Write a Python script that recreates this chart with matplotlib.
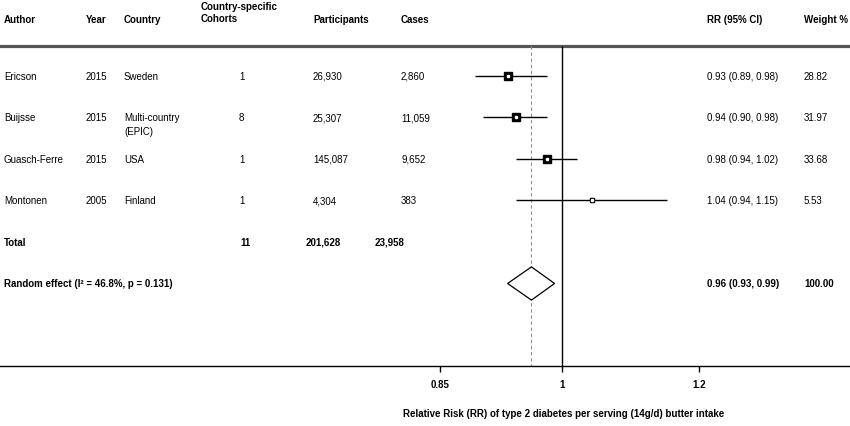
import numpy as np
import matplotlib
matplotlib.use('Agg')
import matplotlib.pyplot as plt
from matplotlib.ticker import NullLocator, FixedLocator, FixedFormatter

plt.rcParams['font.family'] = ['Liberation Sans', 'DejaVu Sans']
plt.rcParams['font.size'] = 7

# study data
authors = ['Ericson', 'Buijsse', 'Guasch-Ferre', 'Montonen']
years = [2015, 2015, 2015, 2005]
countries = ['Sweden', 'Multi-country\n(EPIC)', 'USA', 'Finland']
cohorts = [1, 8, 1, 1]
participants = [26930, 25307, 145087, 4304]
cases = [2860, 11059, 9652, 383]
rr = [0.93, 0.94, 0.98, 1.04]
rr_lo = [0.89, 0.90, 0.94, 0.94]
rr_hi = [0.98, 0.98, 1.02, 1.15]
weights = [28.82, 31.97, 33.68, 5.53]

total_cohorts = 11
total_participants = 201628
total_cases = 23958

pooled = 0.96
pooled_lo = 0.93
pooled_hi = 0.99
i2 = 46.8
p_het = 0.131

xticks = [0.85, 1, 1.2]
xtick_labels = ['0.85', '1', '1.2']

headers = ['Author', 'Year', 'Country', 'Country-specific\nCohorts',
           'Participants', 'Cases', 'RR (95% CI)', 'Weight %']

# layout (pixels of an 850 px wide figure)
W = 850.0
col_x = [4, 86, 124, 201, 313, 401, 707, 804]
cohort_val_x = 239
total_x = [240, 306, 375]

fig = plt.figure(figsize=(8.5, 4.27), dpi=100)
ax = fig.add_axes([0, 60 / 427, 1, 367 / 427])
ax.set_xscale('log')
ax.set_xlim(0.4732, 1.467)
ax.set_ylim(7.988, -0.855)

for s in ['top', 'left', 'right']:
    ax.spines[s].set_visible(False)
ax.spines['bottom'].set_linewidth(1.0)
ax.yaxis.set_visible(False)
ax.xaxis.set_major_locator(FixedLocator(xticks))
ax.xaxis.set_major_formatter(FixedFormatter(xtick_labels))
ax.xaxis.set_minor_locator(NullLocator())
ax.tick_params(axis='x', length=4.3, width=1.0, pad=5, labelsize=7)
for lab in ax.get_xticklabels():
    lab.set_fontweight('bold')
ax.set_xlabel('Relative Risk (RR) of type 2 diabetes per serving (14g/d) butter intake',
              fontweight='bold', fontsize=7, labelpad=14, x=564 / W)

tr = ax.get_yaxis_transform()
rows = np.arange(1, len(authors) + 1)
y_top = 0.277
y_bot = 7.988

# header and separator
for h, x in zip(headers, col_x):
    y = -0.54 if '\n' in h else -0.37
    ax.text(x / W, y, h, transform=tr, ha='left', va='center',
            fontweight='bold', linespacing=1.35)
ax.axhline(y_top, color='#555555', lw=2.3)

# reference lines
ax.vlines(1, y_top, y_bot, color='black', lw=1.0)
ax.vlines(pooled, y_top, y_bot, color='#909090', lw=0.8, linestyles=(0, (3, 2.5)))

# study rows
for i, y in enumerate(rows):
    ax.text(col_x[0] / W, y, authors[i], transform=tr, va='center')
    ax.text(col_x[1] / W, y, str(years[i]), transform=tr, va='center')
    for k, line in enumerate(countries[i].split('\n')):
        ax.text(col_x[2] / W, y + k * 0.33, line, transform=tr, va='center')
    ax.text(cohort_val_x / W, y, str(cohorts[i]), transform=tr, va='center')
    ax.text(col_x[4] / W, y, f'{participants[i]:,}', transform=tr, va='center')
    ax.text(col_x[5] / W, y, f'{cases[i]:,}', transform=tr, va='center')
    ax.text(col_x[6] / W, y, f'{rr[i]:.2f} ({rr_lo[i]:.2f}, {rr_hi[i]:.2f})',
            transform=tr, va='center')
    ax.text(col_x[7] / W, y, f'{weights[i]:.2f}', transform=tr, va='center')

ax.hlines(rows, rr_lo, rr_hi, color='black', lw=1.0)
for i, y in enumerate(rows):
    ax.plot(rr[i], y, 's', ms=0.95 * np.sqrt(weights[i]), color='black')
ax.plot(rr, rows, 'o', ms=3.3, mfc='white', mec='black', mew=0.6, ls='none')

# total row
y_total = 5
ax.text(col_x[0] / W, y_total, 'Total', transform=tr, va='center', fontweight='bold')
ax.text(total_x[0] / W, y_total, str(total_cohorts), transform=tr, va='center', fontweight='bold')
ax.text(total_x[1] / W, y_total, f'{total_participants:,}', transform=tr, va='center', fontweight='bold')
ax.text(total_x[2] / W, y_total, f'{total_cases:,}', transform=tr, va='center', fontweight='bold')

# pooled estimate
y_re = 6
ax.text(col_x[0] / W, y_re, f'Random effect (I\u00b2 = {i2}%, p = {p_het})',
        transform=tr, va='center', fontweight='bold')
ax.text(col_x[6] / W, y_re, f'{pooled:.2f} ({pooled_lo:.2f}, {pooled_hi:.2f})',
        transform=tr, va='center', fontweight='bold')
ax.text(col_x[7] / W, y_re, f'{sum(weights):.2f}', transform=tr, va='center', fontweight='bold')
ax.fill([pooled_lo, pooled, pooled_hi, pooled], [y_re, y_re - 0.4, y_re, y_re + 0.4],
        facecolor='white', edgecolor='black', lw=0.9, zorder=3)

fig.savefig('out.png', dpi=100)
